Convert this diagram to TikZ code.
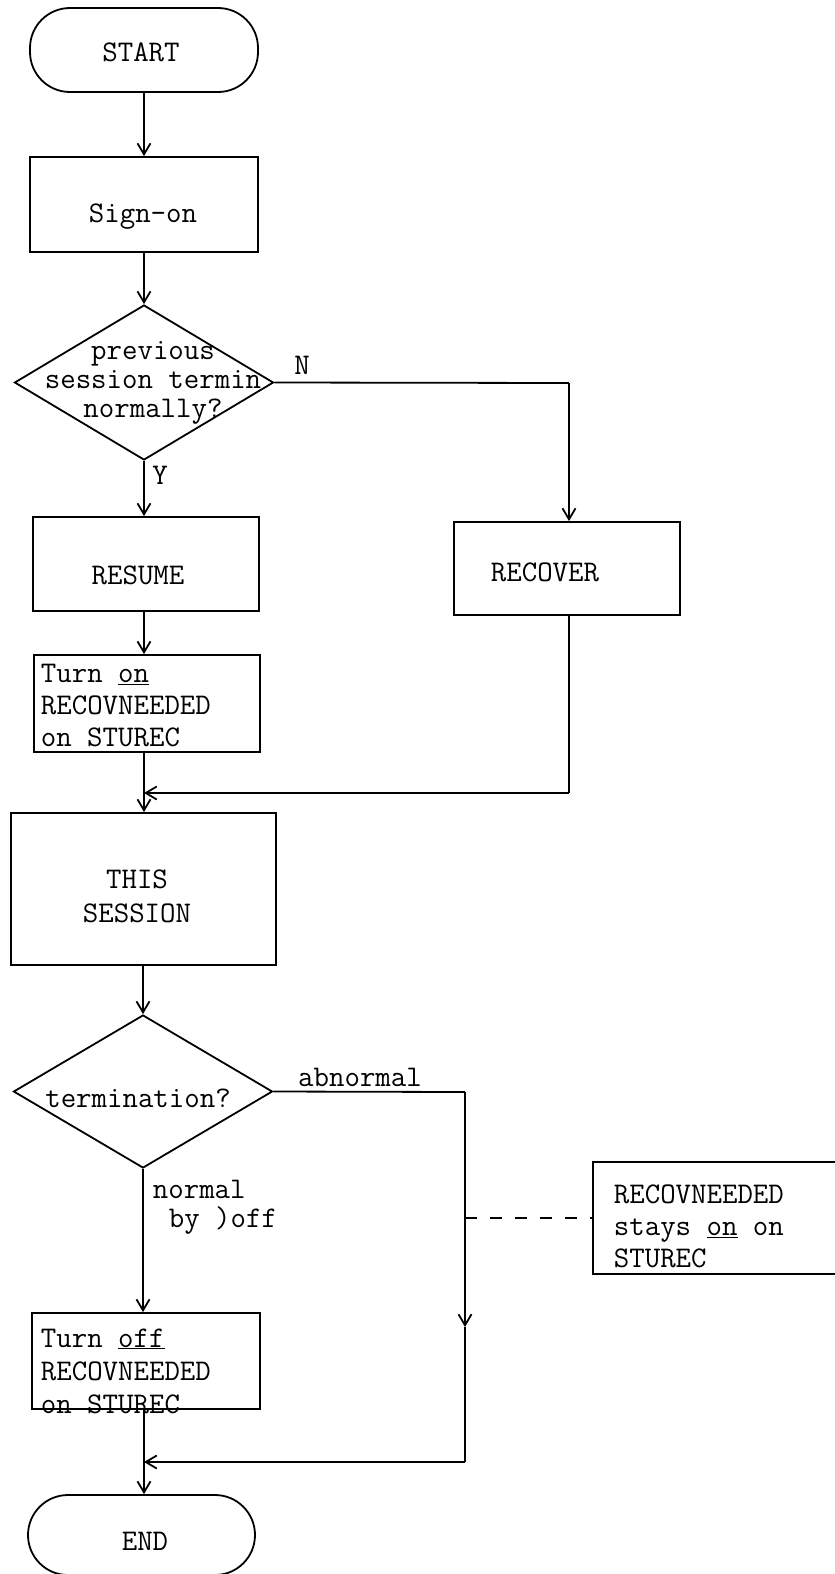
\documentclass[tikz,border=0pt]{standalone}
\usepackage{fontspec}
\usetikzlibrary{arrows.meta,shapes.geometric}
\begin{document}
\begin{tikzpicture}[x=1pt,y=-1pt,line width=1.8pt,
  txt/.style={inner sep=0pt,font=\ttfamily\fontsize{30}{30}\selectfont},
  term/.style={draw,rounded corners=40pt,inner sep=0pt},
  box/.style={draw,inner sep=0pt},
  dia/.style={draw,diamond,inner sep=0pt,aspect=1.7},
  arr/.style={-{Straight Barb[length=11pt,width=13pt]}},
  dashline/.style={dash pattern=on 12pt off 13pt}]
\useasboundingbox (0,0) rectangle (835,1574);
\clip (0,0) rectangle (835,1574);
% shapes
\node[term,minimum width=228pt,minimum height=84pt] (start) at (144,50) {};
\node[box,minimum width=228pt,minimum height=95pt] (sign) at (144,204.5) {};
\node[dia,minimum width=259pt,minimum height=155pt] (d1) at (144,382.5) {};
\node[box,minimum width=226pt,minimum height=94pt] (resume) at (146,564) {};
\node[box,minimum width=226pt,minimum height=93pt] (recover) at (567,568.5) {};
\node[box,minimum width=226pt,minimum height=97pt] (turnon) at (147,703.5) {};
\node[box,minimum width=265pt,minimum height=152pt] (this) at (143.5,889) {};
\node[dia,minimum width=259pt,minimum height=153pt] (d2) at (143,1091.5) {};
\node[box,minimum width=228pt,minimum height=96pt] (turnoff) at (146,1361) {};
\node[term,minimum width=227pt,minimum height=80pt] (end) at (141.5,1535) {};
\node[box,minimum width=320pt,minimum height=112pt] (stays) at (753,1218) {};
% texts
\node[txt] (tstart) at (141,52) {START};
\node[txt] (tsign) at (143,217) {Sign-on};
\node[txt,align=center,font=\ttfamily\fontsize{30}{29}\selectfont] (td1) at (153,383) {previous\\session termin\\normally?};
\node[txt] (tresume) at (138,575) {RESUME};
\node[txt] (trecover) at (545,572) {RECOVER};
\node[txt,anchor=west,align=left,font=\ttfamily\fontsize{30}{32}\selectfont] (tturnon) at (40,706) {Turn \underline{on}\\RECOVNEEDED\\on STUREC};
\node[txt,align=center,font=\ttfamily\fontsize{30}{34}\selectfont] (tthis) at (137,896) {THIS\\SESSION};
\node[txt] (td2) at (138,1098) {termination?};
\node[txt,anchor=west,align=left,font=\ttfamily\fontsize{30}{33}\selectfont] (tturnoff) at (40,1371) {Turn \underline{off}\\RECOVNEEDED\\on STUREC};
\node[txt] (tend) at (145,1541) {END};
\node[txt,anchor=west,align=left,font=\ttfamily\fontsize{30}{32}\selectfont] (tstays) at (613,1226) {RECOVNEEDED\\stays \underline{on} on\\STUREC};
\node[txt] (lN) at (302,365) {N};
\node[txt] (lY) at (160,475) {Y};
\node[txt] (labn) at (360,1077) {abnormal};
\node[txt,anchor=west] (lnorm) at (152,1189) {normal};
\node[txt,anchor=west] (lby) at (168,1220) {by )off};
% helper coordinates
\coordinate (nturn) at (569,383);
\coordinate (mergeA) at (569,793);
\coordinate (mergeAend) at (144,793);
\coordinate (abnA) at (465,1092);
\coordinate (abnB) at (465,1462);
\coordinate (abnMid) at (465,1327);
\coordinate (mergeBend) at (144,1462);
\coordinate (dashA) at (465,1218);
% connectors
\draw[arr] (start.south) -- (start.south |- sign.north);
\draw[arr] (sign.south) -- (d1.north);
\draw[arr] (d1.south) -- (d1.south |- resume.north);
\draw (d1.east) -- (nturn);
\draw[arr] (nturn) -- (nturn |- recover.north);
\draw[arr] (resume.south -| d1.south) -- (d1.south |- turnon.north);
\draw[arr] (mergeAend |- turnon.south) -- (mergeAend |- this.north);
\draw (recover.south -| nturn) -- (mergeA);
\draw[arr] (mergeA) -- (mergeAend);
\draw[arr] (this.south -| d2.north) -- (d2.north);
\draw[arr] (d2.south) -- (d2.south |- turnoff.north);
\draw (d2.east) -- (abnA);
\draw[arr] (abnA) -- (abnMid);
\draw (abnMid) -- (abnB);
\draw[arr] (abnB) -- (mergeBend);
\draw[arr] (turnoff.south -| mergeBend) -- (mergeBend |- end.north);
\draw[dashline] (dashA) -- (stays.west);
\end{tikzpicture}
\end{document}
